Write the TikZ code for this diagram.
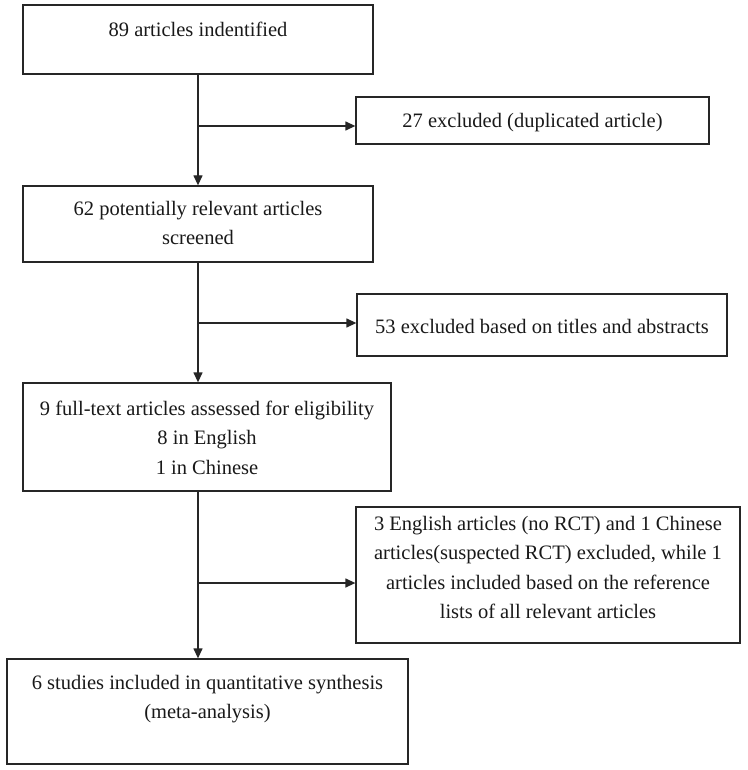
\documentclass[tikz,border=0pt]{standalone}
\usepackage{fontspec}
\setmainfont{Liberation Serif}
\usetikzlibrary{arrows.meta}
\newcommand\mystrut{\rule{0pt}{14.5pt}}
\begin{document}
\begin{tikzpicture}[x=1pt,y=-1pt,
  box/.style={draw=black!85, line width=1.3pt, rectangle, inner sep=0pt},
  txt/.style={anchor=north, inner sep=0pt, align=center, text=black!90,
              font=\fontsize{20.5}{29.5}\selectfont},
  arr/.style={draw=black!85, line width=1.3pt, -{Triangle[length=10pt,width=9pt]}}]
\useasboundingbox (0,0) rectangle (747,770);
\fill[white] (0,0) rectangle (747,770);
% boxes
\node[box, minimum width=350, minimum height=69] (b1) at (198,39.5) {};
\node[box, minimum width=353, minimum height=47] (b27) at (532.5,120.5) {};
\node[box, minimum width=350, minimum height=76] (b62) at (198,224) {};
\node[box, minimum width=370, minimum height=62] (b53) at (542,325) {};
\node[box, minimum width=368, minimum height=108] (b9) at (207,437) {};
\node[box, minimum width=384, minimum height=136] (bex) at (548,575) {};
\node[box, minimum width=401, minimum height=105] (bfin) at (207.5,711.5) {};
% texts
\node[txt] (t1) at (198,22) {\mystrut 89 articles indentified};
\node[txt] (t27) at (532.5,113.2) {\mystrut 27 excluded (duplicated article)};
\node[txt] (t62) at (198,200.5) {\mystrut 62 potentially relevant articles\\screened};
\node[txt] (t53) at (542,318.5) {\mystrut 53 excluded based on titles and abstracts};
\node[txt] (t9) at (207,400.5) {\mystrut 9 full-text articles assessed for eligibility\\8 in English\\1 in Chinese};
\node[txt] (tex) at (548,515.5) {\mystrut 3 English articles (no RCT) and 1 Chinese\\articles(suspected RCT) excluded, while 1\\articles included based on the reference\\lists of all relevant articles};
\node[txt] (tfin) at (207.5,674.5) {\mystrut 6 studies included in quantitative synthesis\\(meta-analysis)};
% junctions
\coordinate (j1) at (198,126);
\coordinate (j2) at (198,323);
\coordinate (j3) at (198,583);
% connectors
\draw[arr] (b1.south) -- (b1.south |- b62.north);
\draw[arr] (j1) -- (j1 -| b27.west);
\draw[arr] (b62.south) -- (b62.south |- b9.north);
\draw[arr] (j2) -- (j2 -| b53.west);
\draw[arr] (b62.south |- b9.south) -- (b62.south |- bfin.north);
\draw[arr] (j3) -- (j3 -| bex.west);
\end{tikzpicture}
\end{document}
